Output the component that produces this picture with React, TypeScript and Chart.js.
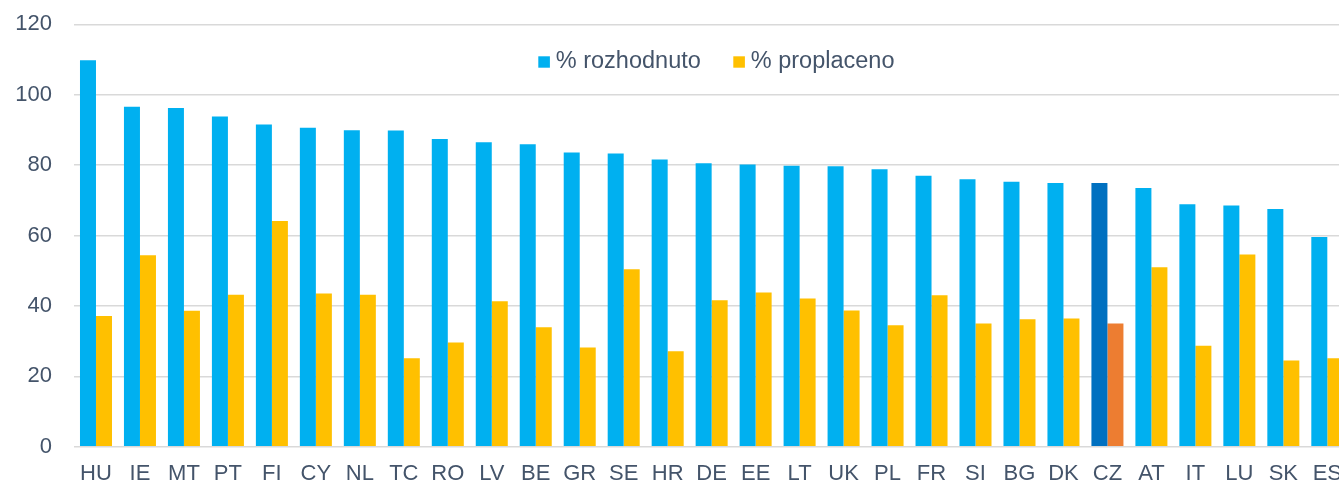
import React, { useEffect, useRef } from "react";
import { Chart, registerables } from "chart.js";

Chart.register(...registerables);

const categories = ["HU", "IE", "MT", "PT", "FI", "CY", "NL", "TC", "RO", "LV", "BE", "GR", "SE", "HR", "DE", "EE", "LT", "UK", "PL", "FR", "SI", "BG", "DK", "CZ", "AT", "IT", "LU", "SK", "ES"];
const rozhodnuto = [109.8, 96.6, 96.2, 93.8, 91.5, 90.6, 89.9, 89.8, 87.4, 86.5, 85.9, 83.6, 83.3, 81.6, 80.5, 80.2, 79.8, 79.7, 78.8, 77.0, 76.0, 75.3, 74.9, 74.9, 73.5, 68.9, 68.5, 67.5, 59.6];
const proplaceno = [37.1, 54.4, 38.6, 43.2, 64.1, 43.5, 43.2, 25.1, 29.6, 41.3, 33.9, 28.2, 50.4, 27.1, 41.6, 43.8, 42.1, 38.7, 34.5, 43.0, 35.0, 36.2, 36.4, 35.0, 51.0, 28.7, 54.6, 24.5, 25.1];
const yTicks = [0, 20, 40, 60, 80, 100, 120];
const seriesNames = ["% rozhodnuto", "% proplaceno"];
const highlight = "CZ";

const BLUE = "#00B0F0";
const YELLOW = "#FFC000";
const DARK_BLUE = "#0070C0";
const ORANGE = "#ED7D31";
const TEXT = "#44546A";
const FONT = "'Liberation Sans', Arial, sans-serif";

const legendPlugin = {
  id: "customLegend",
  afterDraw(chart: any) {
    const ctx = chart.ctx;
    ctx.save();
    ctx.font = `23.5px ${FONT}`;
    ctx.textBaseline = "middle";
    ctx.textAlign = "left";
    const items = [
      { color: BLUE, text: seriesNames[0], x: 538.3 },
      { color: YELLOW, text: seriesNames[1], x: 733.3 },
    ];
    const cy = 62;
    for (const it of items) {
      ctx.fillStyle = it.color;
      ctx.fillRect(it.x, cy - 5.7, 11.6, 11.4);
      ctx.fillStyle = TEXT;
      ctx.fillText(it.text, it.x + 17.5, cy);
    }
    ctx.restore();
  },
};

export default function App() {
  const ref = useRef<HTMLCanvasElement>(null);
  useEffect(() => {
    if (!ref.current) return;
    const chart = new Chart(ref.current, {
      type: "bar",
      data: {
        labels: categories,
        datasets: [
          {
            label: seriesNames[0],
            data: rozhodnuto,
            backgroundColor: categories.map((c) => (c === highlight ? DARK_BLUE : BLUE)),
          },
          {
            label: seriesNames[1],
            data: proplaceno,
            backgroundColor: categories.map((c) => (c === highlight ? ORANGE : YELLOW)),
          },
        ],
      },
      options: {
        responsive: false,
        animation: false,
        layout: { padding: { left: 0, right: 0.7, top: 24.3, bottom: 0 } },
        datasets: { bar: { categoryPercentage: 0.728, barPercentage: 1 } },
        plugins: { legend: { display: false }, tooltip: { enabled: false } },
        scales: {
          x: {
            grid: { display: false, drawTicks: false },
            border: { display: false },
            ticks: { color: TEXT, font: { family: FONT, size: 22 }, padding: 14, maxRotation: 0, autoSkip: false },
            afterFit: (axis: any) => {
              axis.height = 37.3;
              axis.paddingLeft = 0;
              axis.paddingRight = 0;
            },
          },
          y: {
            min: 0,
            max: 120,
            afterBuildTicks: (axis: any) => {
              axis.ticks = yTicks.map((v) => ({ value: v }));
            },
            grid: { color: "#D9D9D9", lineWidth: 1.6, drawTicks: false },
            border: { display: false },
            ticks: { color: TEXT, font: { family: FONT, size: 22 }, padding: 22 },
            afterFit: (axis: any) => {
              axis.width = 74;
              axis.paddingTop = 0;
              axis.paddingBottom = 0;
            },
          },
        },
      },
      plugins: [legendPlugin],
    });
    return () => chart.destroy();
  }, []);
  return (
    <div style={{ position: "absolute", left: 0, top: 0, width: 1339, height: 484, overflow: "hidden", background: "#fff" }}>
      <canvas ref={ref} width={1350} height={484} style={{ width: 1350, height: 484, display: "block" }} />
    </div>
  );
}
